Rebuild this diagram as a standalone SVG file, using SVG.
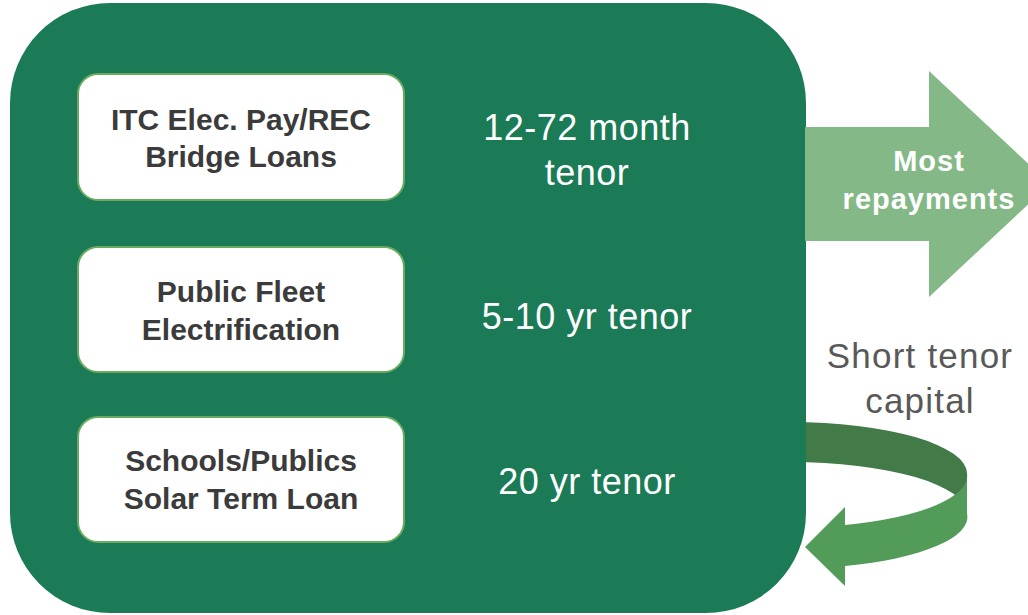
<svg xmlns="http://www.w3.org/2000/svg" width="1028" height="615" viewBox="0 0 1028 615">
<style>
.box{fill:#ffffff;stroke:#6aab5f;stroke-width:2}
.bt{font-family:"Liberation Sans",Arial,sans-serif;font-weight:bold;font-size:30px;fill:#3b3b3b;text-anchor:middle}
.wt{font-family:"Liberation Sans",Arial,sans-serif;font-size:36px;letter-spacing:0.5px;fill:#ffffff;text-anchor:middle}
.at{font-family:"Liberation Sans",Arial,sans-serif;font-weight:bold;font-size:29px;letter-spacing:1px;fill:#ffffff;text-anchor:middle}
.gt{font-family:"Liberation Sans",Arial,sans-serif;font-size:35px;letter-spacing:1.2px;fill:#595959;text-anchor:middle}
</style>
<rect width="1028" height="615" fill="#ffffff"/>
<g id="loop-back">
<path d="M 790,422 A 177 51.5 0 0 1 967,473.5 L 967,513.5 A 177 51.5 0 0 0 790,462 Z" fill="#427a48"/>
</g>
<g id="container">
<rect x="10" y="3" width="796" height="610" rx="100" ry="100" fill="#1b7b57"/>
</g>
<g id="loop-front">
<path d="M 967,473.5 A 177 51.5 0 0 1 845,525 L 845,566 A 177 51.5 0 0 0 967,513.5 Z" fill="#539b58"/>
<polygon points="845,507 805,547 845,586" fill="#539b58"/>
</g>
<g id="node1">
<rect class="box" x="78" y="74" width="326" height="126" rx="20"/>
<text class="bt" x="241" y="130">ITC Elec. Pay/REC</text>
<text class="bt" x="241" y="167">Bridge Loans</text>
<text class="wt" x="587" y="140">12-72 month</text>
<text class="wt" x="587" y="185">tenor</text>
</g>
<g id="node2">
<rect class="box" x="78" y="247" width="326" height="125" rx="20"/>
<text class="bt" x="241" y="302">Public Fleet</text>
<text class="bt" x="241" y="340">Electrification</text>
<text class="wt" x="587" y="329">5-10 yr tenor</text>
</g>
<g id="node3">
<rect class="box" x="78" y="417" width="326" height="125" rx="20"/>
<text class="bt" x="241" y="471">Schools/Publics</text>
<text class="bt" x="241" y="509">Solar Term Loan</text>
<text class="wt" x="587" y="494">20 yr tenor</text>
</g>
<g id="connectors">
<polygon points="805,127 929,127 929,71 1050,184 929,297 929,241 805,241" fill="#84b887"/>
<text class="at" x="929" y="171">Most</text>
<text class="at" x="929" y="209">repayments</text>
</g>
<g id="labels">
<text class="gt" x="920" y="368">Short tenor</text>
<text class="gt" x="920" y="413">capital</text>
</g>
</svg>
